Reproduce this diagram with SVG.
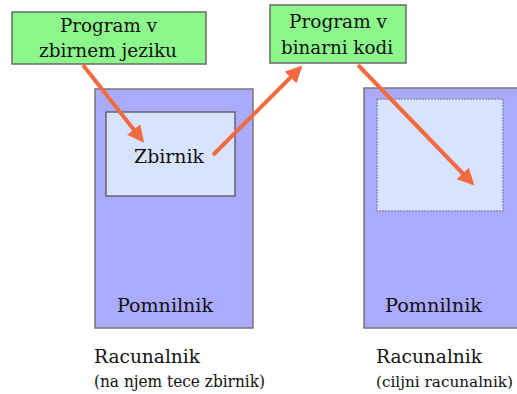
<svg xmlns="http://www.w3.org/2000/svg" width="517" height="394" viewBox="0 0 517 394">
<defs>
<style>
text{font-family:'DejaVu Serif','Liberation Serif',serif;fill:#111;}
.big{font-size:19px;}
.small{font-size:16.5px;}
.green{fill:#8cf88c;stroke:#6a6a6a;stroke-width:1.5;}
.outer{fill:#aaaaff;stroke:#777;stroke-width:1.5;}
.inner{fill:#d8e4ff;stroke:#666;stroke-width:1.5;}
.inner2{fill:#d8e4ff;stroke:#8a8aa8;stroke-width:1.5;stroke-dasharray:2 1;}
.arr{stroke:#f26a40;stroke-width:4;fill:none;marker-end:url(#ah);}
</style>
<marker id="ah" viewBox="0 0 10 10" refX="8" refY="5" markerWidth="4.2" markerHeight="4.2" orient="auto" markerUnits="strokeWidth">
<path d="M0,0 L10,5 L0,10 z" fill="#f26a40"/>
</marker>
</defs>
<rect width="517" height="394" fill="#fff"/>
<g id="computer1">
<rect class="outer" x="95" y="89" width="158" height="239"/>
<text class="big" x="117" y="312" textLength="96" lengthAdjust="spacingAndGlyphs">Pomnilnik</text>
</g>
<g id="zbirnik">
<rect class="inner" x="106" y="112" width="129" height="84"/>
<text class="big" x="134" y="163" textLength="70" lengthAdjust="spacingAndGlyphs">Zbirnik</text>
</g>
<g id="computer2">
<rect class="outer" x="364" y="88" width="156" height="240"/>
<rect class="inner2" x="377" y="99" width="126" height="112"/>
<text class="big" x="385" y="312" textLength="97" lengthAdjust="spacingAndGlyphs">Pomnilnik</text>
</g>
<g id="prog-asm">
<rect class="green" x="12" y="12" width="194" height="52"/>
<text class="big" x="60" y="32" textLength="97" lengthAdjust="spacingAndGlyphs">Program v</text>
<text class="big" x="39" y="57" textLength="138" lengthAdjust="spacingAndGlyphs">zbirnem jeziku</text>
</g>
<g id="prog-bin">
<rect class="green" x="270" y="5" width="136" height="58"/>
<text class="big" x="289" y="28" textLength="98" lengthAdjust="spacingAndGlyphs">Program v</text>
<text class="big" x="281" y="54" textLength="112" lengthAdjust="spacingAndGlyphs">binarni kodi</text>
</g>
<g id="label1">
<text class="big" x="94" y="363" textLength="106" lengthAdjust="spacingAndGlyphs">Racunalnik</text>
<text class="small" x="94" y="387" textLength="171" lengthAdjust="spacingAndGlyphs">(na njem tece zbirnik)</text>
</g>
<g id="label2">
<text class="big" x="376" y="363" textLength="106" lengthAdjust="spacingAndGlyphs">Racunalnik</text>
<text x="376" y="387" font-size="14.5" textLength="137" lengthAdjust="spacingAndGlyphs">(ciljni racunalnik)</text>
</g>
<g id="connectors">
<line class="arr" x1="83" y1="65" x2="142" y2="140"/>
<line class="arr" x1="213" y1="155" x2="300" y2="68"/>
<line class="arr" x1="358" y1="65" x2="472" y2="183"/>
</g>
</svg>
